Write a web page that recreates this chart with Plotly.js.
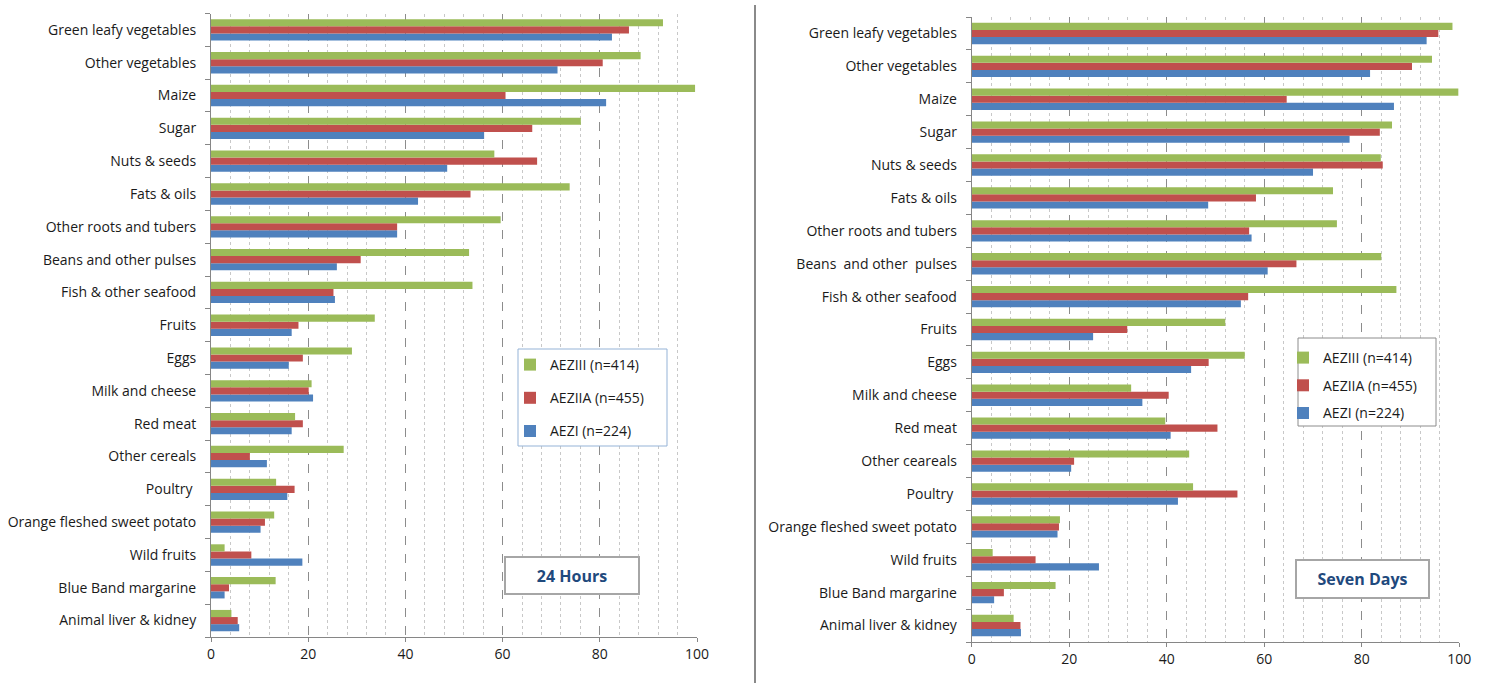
<!DOCTYPE html>
<html>
<head>
<meta charset="utf-8">
<script src="https://cdn.plot.ly/plotly-3.0.1.min.js"></script>
<style>
  html, body { margin: 0; padding: 0; background: #ffffff; }
  #chart { width: 1485px; height: 683px; }
</style>
</head>
<body>
<div id="chart"></div>
<script>
// Food groups, listed top to bottom as they appear on each panel
const foodGroups24h = [
  "Green leafy vegetables", "Other vegetables", "Maize", "Sugar", "Nuts & seeds",
  "Fats & oils", "Other roots and tubers", "Beans and other pulses",
  "Fish & other seafood", "Fruits", "Eggs", "Milk and cheese", "Red meat",
  "Other cereals", "Poultry\u00a0", "Orange fleshed sweet potato", "Wild fruits",
  "Blue Band margarine", "Animal liver & kidney"
];
const foodGroups7d = [
  "Green leafy vegetables", "Other vegetables", "Maize", "Sugar", "Nuts & seeds",
  "Fats & oils", "Other roots and tubers", "Beans\u00a0 and other\u00a0 pulses",
  "Fish & other seafood", "Fruits", "Eggs", "Milk and cheese", "Red meat",
  "Other ceareals", "Poultry\u00a0", "Orange fleshed sweet potato", "Wild fruits",
  "Blue Band margarine", "Animal liver & kidney"
];

// Percentage of households consuming each food group, previous 24 hours
const aezIII_24h  = [93.0, 88.4, 99.6, 76.1, 58.3, 73.8, 59.6, 53.1, 53.8, 33.7, 29.0, 20.7, 17.3, 27.3, 13.4, 13.0, 2.8, 13.3, 4.2];
const aezIIA_24h  = [86.0, 80.6, 60.6, 66.1, 67.1, 53.4, 38.3, 30.8, 25.2, 18.0, 18.9, 20.1, 18.9, 8.0, 17.2, 11.1, 8.3, 3.7, 5.5];
const aezI_24h    = [82.5, 71.3, 81.3, 56.2, 48.6, 42.6, 38.3, 25.9, 25.5, 16.6, 16.0, 21.0, 16.6, 11.5, 15.7, 10.2, 18.8, 2.8, 5.8];

// Percentage of households consuming each food group, previous seven days
const aezIII_7d   = [98.6, 94.4, 99.8, 86.2, 83.9, 74.1, 74.9, 84.0, 87.1, 52.0, 56.0, 32.7, 39.7, 44.6, 45.4, 18.1, 4.3, 17.2, 8.6];
const aezIIA_7d   = [95.7, 90.3, 64.6, 83.7, 84.3, 58.3, 56.9, 66.6, 56.7, 31.9, 48.6, 40.4, 50.4, 21.0, 54.5, 17.9, 13.1, 6.6, 10.0];
const aezI_7d     = [93.3, 81.7, 86.6, 77.5, 70.0, 48.5, 57.4, 60.7, 55.2, 24.9, 45.0, 35.0, 40.8, 20.4, 42.3, 17.6, 26.1, 4.6, 10.1];

const seriesNames = ["AEZI (n=224)", "AEZIIA (n=455)", "AEZIII (n=414)"];
const seriesColors = ["#4f81bd", "#c0504d", "#9bbb59"];
const panelTitles = ["24 Hours", "Seven Days"];

const W = 1485, H = 683;
const px = v => v / W;
const py = v => 1 - v / H;

const FONT = "Open Sans, Liberation Sans, Arial, sans-serif";
const TEXT = "#1a1a1a";
const AXIS_GREY = "#868686";

function makeTraces(cats, series, xa, ya, legendId, tag) {
  return series.map((vals, i) => ({
    type: "bar",
    orientation: "h",
    name: seriesNames[i],
    x: vals,
    y: cats,
    xaxis: xa,
    yaxis: ya,
    legend: legendId,
    legendgroup: tag + i,
    legendrank: 3 - i,   // AEZIII listed first
    marker: { color: seriesColors[i], line: { width: 0 } },
    hoverinfo: "x+y+name"
  }));
}

const traces = [
  ...makeTraces(foodGroups24h, [aezI_24h, aezIIA_24h, aezIII_24h], "x", "y", "legend", "a"),
  ...makeTraces(foodGroups7d, [aezI_7d, aezIIA_7d, aezIII_7d], "x2", "y2", "legend2", "b")
];

function xAxis(domain, anchor) {
  return {
    domain: domain,
    anchor: anchor,
    range: [0, 100],
    dtick: 20,
    tick0: 0,
    showline: true,
    linecolor: AXIS_GREY,
    linewidth: 1,
    ticks: "outside",
    ticklen: 4,
    tickcolor: AXIS_GREY,
    showgrid: true,
    gridcolor: "#8c8c8c",
    griddash: "dash",
    gridwidth: 1,
    zeroline: false,
    minor: {
      dtick: 4,
      showgrid: true,
      gridcolor: "#c8c8c8",
      griddash: "dot",
      gridwidth: 1,
      ticks: ""
    },
    tickfont: { family: FONT, size: 14, color: TEXT },
    fixedrange: true
  };
}

function yAxis(domain, anchor, cats) {
  return {
    domain: domain,
    anchor: anchor,
    type: "category",
    categoryorder: "array",
    categoryarray: cats.slice().reverse(),
    range: [-0.5, cats.length - 0.5],
    showline: true,
    linecolor: AXIS_GREY,
    linewidth: 1,
    ticks: "outside",
    tickson: "boundaries",
    ticklen: 5,
    tickcolor: AXIS_GREY,
    showgrid: false,
    zeroline: false,
    ticklabelstandoff: 11,
    tickfont: { family: FONT, size: 14, color: TEXT },
    fixedrange: true
  };
}

const legendCommon = {
  bgcolor: "rgba(0,0,0,0)",
  borderwidth: 0,
  traceorder: "grouped",
  xanchor: "left",
  yanchor: "top",
  font: { family: FONT, size: 14, color: TEXT },
  itemclick: false,
  itemdoubleclick: false
};

const layout = {
  width: W,
  height: H,
  margin: { l: 0, r: 0, t: 0, b: 0, pad: 0 },
  paper_bgcolor: "#ffffff",
  plot_bgcolor: "#ffffff",
  barmode: "group",
  bargap: 0.35,
  bargroupgap: 0,
  font: { family: FONT, color: TEXT },
  xaxis: xAxis([px(211), px(697)], "y"),
  yaxis: yAxis([py(637), py(13.5)], "x", foodGroups24h),
  xaxis2: xAxis([px(971.7), px(1459.3)], "y2"),
  yaxis2: yAxis([py(642), py(17)], "x2", foodGroups7d),
  legend: Object.assign({}, legendCommon, {
    x: px(510), y: py(349), tracegroupgap: 12
  }),
  legend2: Object.assign({}, legendCommon, {
    x: px(1283), y: py(342), tracegroupgap: 6.5
  }),
  shapes: [
    // divider between the two panels
    { type: "line", xref: "paper", yref: "paper",
      x0: px(755), x1: px(755), y0: 0, y1: py(5),
      line: { color: "#8a8a8a", width: 2 } },
    // legend frames
    { type: "rect", xref: "paper", yref: "paper", layer: "above",
      x0: px(518), x1: px(667), y0: py(349), y1: py(446),
      fillcolor: "#ffffff", line: { color: "#95b3d7", width: 1 } },
    { type: "rect", xref: "paper", yref: "paper", layer: "above",
      x0: px(1298), x1: px(1436), y0: py(338), y1: py(426),
      fillcolor: "#ffffff", line: { color: "#8c8c8c", width: 1 } }
  ],
  annotations: [
    { xref: "paper", yref: "paper", x: px(572), y: py(575.5),
      xanchor: "center", yanchor: "middle", showarrow: false,
      text: "<b>" + panelTitles[0] + "</b>",
      font: { family: FONT, size: 16, color: "#1f497d" },
      width: 132, height: 35, borderpad: 0,
      bgcolor: "#ffffff", bordercolor: "#a6a6a6", borderwidth: 2 },
    { xref: "paper", yref: "paper", x: px(1362), y: py(579),
      xanchor: "center", yanchor: "middle", showarrow: false,
      text: "<b>" + panelTitles[1] + "</b>",
      font: { family: FONT, size: 16, color: "#1f497d" },
      width: 131, height: 36, borderpad: 0,
      bgcolor: "#ffffff", bordercolor: "#a6a6a6", borderwidth: 2 }
  ]
};

Plotly.newPlot("chart", traces, layout, { displayModeBar: false, staticPlot: true });
</script>
</body>
</html>
